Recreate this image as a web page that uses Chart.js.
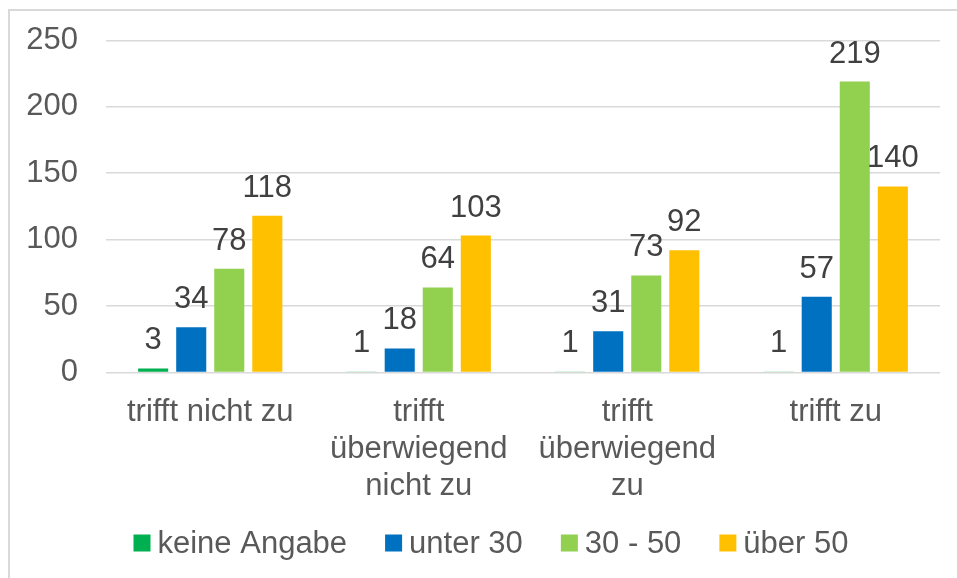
<!DOCTYPE html>
<html>
<head>
<meta charset="utf-8">
<script src="https://cdn.jsdelivr.net/npm/chart.js@4.4.1/dist/chart.umd.min.js"></script>
<style>
    html, body { margin: 0; padding: 0; background: #ffffff; }
    #rahmen {
        position: absolute; left: 8px; top: 9px;
        width: 1000px; height: 620px;
        border: 2px solid #D9D9D9;
    }
    #diagramm { position: absolute; left: 0; top: 0; }
</style>
</head>
<body>
<div id="rahmen"></div>
<canvas id="diagramm" width="957" height="578"></canvas>
<script>
/* -----------------------------
   DATEN
----------------------------- */
const kategorien = [
    "trifft nicht zu",
    ["trifft", "überwiegend", "nicht zu"],
    ["trifft", "überwiegend", "zu"],
    "trifft zu"
];
const keineAngabe = [3, 1, 1, 1];
const unter30 = [34, 18, 31, 57];
const zwischen30und50 = [78, 64, 73, 219];
const ueber50 = [118, 103, 92, 140];
const yTicks = [0, 50, 100, 150, 200, 250];

const schrift = "'Liberation Sans', Arial, sans-serif";

/* -----------------------------
   WERTE UEBER DEN BALKEN
----------------------------- */
const wertePlugin = {
    id: "werte",
    afterDatasetsDraw(chart) {
        const ctx = chart.ctx;
        ctx.save();
        ctx.font = `31px ${schrift}`;
        ctx.fillStyle = "#404040";
        ctx.textAlign = "center";
        ctx.textBaseline = "alphabetic";
        chart.data.datasets.forEach((ds, i) => {
            const meta = chart.getDatasetMeta(i);
            meta.data.forEach((bar, j) => {
                ctx.fillText(String(ds.data[j]), bar.x, bar.y - 19);
            });
        });
        ctx.restore();
    }
};

/* -----------------------------
   LEGENDE (unten, eigene Abstaende)
----------------------------- */
const legendePlugin = {
    id: "legende",
    afterDraw(chart) {
        const ctx = chart.ctx;
        const box = 17, luecke = 7, abstand = 38;
        const mitteY = 543, mitteX = 493;
        ctx.save();
        ctx.font = `31px ${schrift}`;
        ctx.textBaseline = "middle";
        ctx.textAlign = "left";
        const breiten = chart.data.datasets.map(ds => ctx.measureText(ds.label).width);
        const gesamt = breiten.reduce((s, b) => s + box + luecke + b, 0) + abstand * (breiten.length - 1);
        let x = mitteX - gesamt / 2 - 2;
        chart.data.datasets.forEach((ds, i) => {
            const farbe = Array.isArray(ds.backgroundColor) ? ds.backgroundColor[0] : ds.backgroundColor;
            ctx.fillStyle = farbe;
            ctx.fillRect(x, mitteY - box / 2, box, box);
            ctx.fillStyle = "#595959";
            ctx.fillText(ds.label, x + box + luecke, mitteY + 1);
            x += box + luecke + breiten[i] + abstand;
        });
        ctx.restore();
    }
};

new Chart(document.getElementById("diagramm"), {
    type: "bar",
    data: {
        labels: kategorien,
        datasets: [
            {
                label: "keine Angabe",
                data: keineAngabe,
                backgroundColor: ["#00B050", "#CDEFD9", "#CDEFD9", "#CDEFD9"]
            },
            { label: "unter 30", data: unter30, backgroundColor: "#0070C0" },
            { label: "30 - 50", data: zwischen30und50, backgroundColor: "#92D050" },
            { label: "über 50", data: ueber50, backgroundColor: "#FFC000" }
        ]
    },
    options: {
        responsive: false,
        animation: false,
        devicePixelRatio: 1,
        categoryPercentage: 0.73,
        barPercentage: 0.79,
        layout: { padding: { left: 26, right: 17, top: 0, bottom: 60 } },
        plugins: {
            legend: { display: false },
            tooltip: { enabled: false }
        },
        scales: {
            x: {
                grid: { display: false },
                border: { display: false },
                ticks: {
                    color: "#595959",
                    font: { family: schrift, size: 31 },
                    maxRotation: 0,
                    autoSkip: false,
                    padding: 13
                }
            },
            y: {
                min: 0,
                max: 250,
                afterBuildTicks: (scale) => {
                    scale.ticks = yTicks.map(v => ({ value: v }));
                },
                afterFit: (scale) => { scale.width = 80; },
                grid: { color: "#D9D9D9", lineWidth: 1.5, drawTicks: false },
                border: { display: false },
                ticks: {
                    color: "#595959",
                    font: { family: schrift, size: 31, lineHeight: 0.8 },
                    padding: 28
                }
            }
        }
    },
    plugins: [wertePlugin, legendePlugin]
});
</script>
</body>
</html>
